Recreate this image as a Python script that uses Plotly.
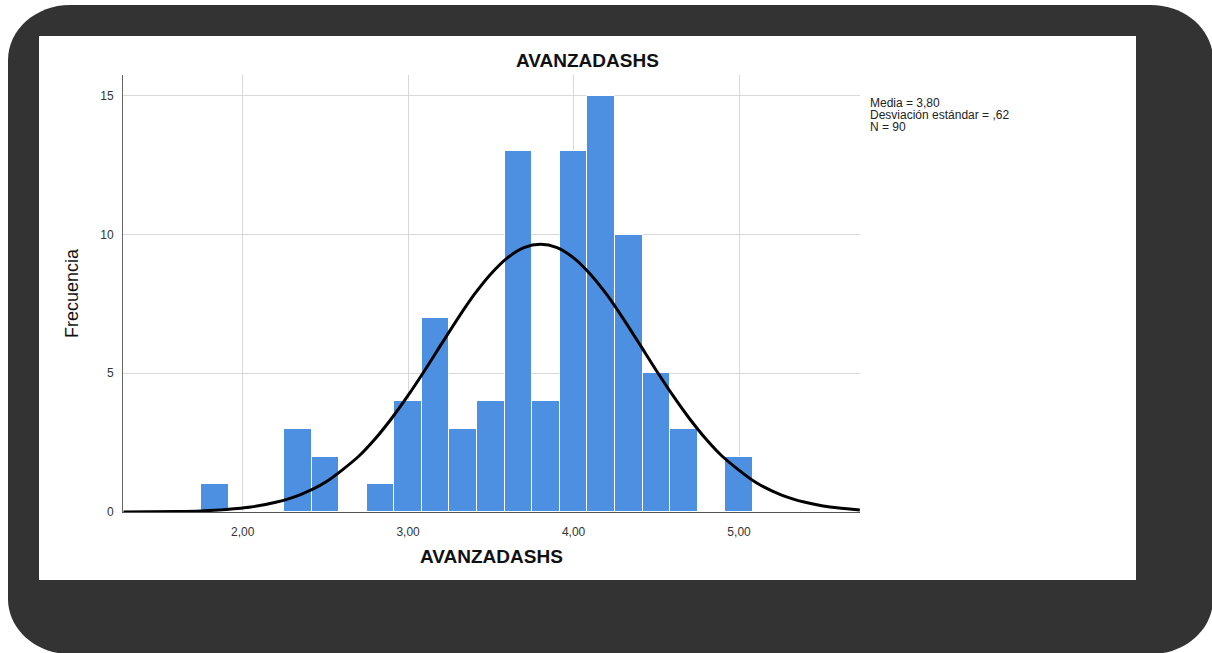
import plotly.graph_objects as go

# ---------------- data ----------------
bin_centers = [1.8333, 2.0, 2.1667, 2.3333, 2.5, 2.6667, 2.8333, 3.0, 3.1667, 3.3333,
               3.5, 3.6667, 3.8333, 4.0, 4.1667, 4.3333, 4.5, 4.6667, 4.8333, 5.0]
frequencies = [1, 0, 0, 3, 2, 0, 1, 4, 7, 3,
               4, 13, 4, 13, 15, 10, 5, 3, 0, 2]
bin_width = 1 / 6

curve_x = [1.28, 1.6, 1.75, 1.9, 2.05, 2.2, 2.35, 2.5, 2.7, 2.8, 2.9, 3.0, 3.1, 3.2, 3.3,
           3.4, 3.5, 3.6, 3.7, 3.8, 3.9, 4.0, 4.1, 4.2, 4.3, 4.4, 4.5, 4.6, 4.7, 4.8,
           4.9, 5.1, 5.25, 5.4, 5.55, 5.73]
curve_y = [0.003, 0.018, 0.04, 0.09, 0.18, 0.35, 0.63, 1.07, 2.00, 2.63, 3.37, 4.20, 5.10, 6.04, 6.97,
           7.84, 8.58, 9.16, 9.53, 9.65, 9.53, 9.16, 8.58, 7.84, 6.97, 6.04, 5.10, 4.20, 3.37, 2.63,
           2.00, 1.07, 0.63, 0.35, 0.18, 0.075]

x_tick_vals = [2, 3, 4, 5]
x_tick_text = ["2,00", "3,00", "4,00", "5,00"]
y_tick_vals = [0, 5, 10, 15]
y_tick_text = ["0", "5", "10", "15"]

chart_title = "AVANZADASHS"
x_title = "AVANZADASHS"
y_title = "Frecuencia"
stats_lines = ["Media = 3,80", "Desviación estándar = ,62", "N = 90"]

# ---------------- geometry ----------------
W, H = 1212, 653
L, R, T, B = 123, 352, 75, 141
PW, PH = W - L - R, H - T - B


def P(px, py):
    return (px - L) / PW, (H - B - py) / PH


def rrect(x0, y0, x1, y1, rx, ry):
    k = 0.5523
    segs = [
        ("M", [(x0 + rx, y0)]),
        ("L", [(x1 - rx, y0)]),
        ("C", [(x1 - rx + k * rx, y0), (x1, y0 + ry - k * ry), (x1, y0 + ry)]),
        ("L", [(x1, y1 - ry)]),
        ("C", [(x1, y1 - ry + k * ry), (x1 - rx + k * rx, y1), (x1 - rx, y1)]),
        ("L", [(x0 + rx, y1)]),
        ("C", [(x0 + rx - k * rx, y1), (x0, y1 - ry + k * ry), (x0, y1 - ry)]),
        ("L", [(x0, y0 + ry)]),
        ("C", [(x0, y0 + ry - k * ry), (x0 + rx - k * rx, y0), (x0 + rx, y0)]),
    ]
    out = ""
    for cmd, pts in segs:
        out += cmd + " " + " ".join("%.5f,%.5f" % P(a, b) for a, b in pts) + " "
    return out + "Z"


FONT = "Liberation Sans, Arial, sans-serif"

fig = go.Figure()
fig.add_trace(go.Bar(
    x=bin_centers, y=frequencies, width=bin_width,
    marker=dict(color="#4d90e2", line=dict(color="white", width=1)),
    showlegend=False, hoverinfo="skip",
))
fig.add_trace(go.Scatter(
    x=curve_x, y=curve_y, mode="lines",
    line=dict(color="black", width=3, shape="spline", smoothing=0.8),
    showlegend=False, hoverinfo="skip",
))

shapes = [
    dict(type="path", xref="paper", yref="paper", layer="below",
         path=rrect(8, 5, 1213, 654, 62, 55), fillcolor="#333333", line=dict(width=0)),
]
x0p, y0p = P(39, 580)
x1p, y1p = P(1136, 36)
shapes.append(dict(type="rect", xref="paper", yref="paper", layer="below",
                   x0=x0p, y0=y0p, x1=x1p, y1=y1p, fillcolor="white", line=dict(width=0)))

annotations = []
tx, ty = P(587, 60)
annotations.append(dict(xref="paper", yref="paper", x=tx, y=ty, text="<b>%s</b>" % chart_title,
                        showarrow=False, xanchor="center", yanchor="middle",
                        font=dict(family=FONT, size=19, color="#111")))
ax, ay = P(491, 556)
annotations.append(dict(xref="paper", yref="paper", x=ax, y=ay, text="<b>%s</b>" % x_title,
                        showarrow=False, xanchor="center", yanchor="middle",
                        font=dict(family=FONT, size=19, color="#111")))
yx, yy = P(72, 293)
annotations.append(dict(xref="paper", yref="paper", x=yx, y=yy, text=y_title, textangle=-90,
                        showarrow=False, xanchor="center", yanchor="middle",
                        font=dict(family=FONT, size=18, color="#111")))
for i, line in enumerate(stats_lines):
    sx, sy = P(868, 103 + 12 * i)
    annotations.append(dict(xref="paper", yref="paper", x=sx, y=sy, text=line,
                            showarrow=False, xanchor="left", yanchor="middle",
                            font=dict(family=FONT, size=12, color="#222")))

fig.update_layout(
    width=W, height=H,
    margin=dict(l=L, r=R, t=T, b=B, pad=0),
    paper_bgcolor="white", plot_bgcolor="rgba(0,0,0,0)",
    bargap=0, shapes=shapes, annotations=annotations,
    font=dict(family=FONT, size=12, color="#333"),
)
fig.update_xaxes(
    range=[1.277, 5.731], tickvals=x_tick_vals, ticktext=x_tick_text,
    showgrid=True, gridcolor="#d9d9d9", gridwidth=1, zeroline=False,
    showline=True, linecolor="#555", linewidth=1,
    ticks="outside", ticklen=9, tickcolor="rgba(0,0,0,0)",
    tickfont=dict(family=FONT, size=12, color="#333"),
)
fig.update_yaxes(
    range=[0, 15.75], tickvals=y_tick_vals, ticktext=y_tick_text,
    showgrid=True, gridcolor="#d9d9d9", gridwidth=1, zeroline=False,
    showline=True, linecolor="#666", linewidth=1,
    ticks="outside", ticklen=6, tickcolor="rgba(0,0,0,0)",
    tickfont=dict(family=FONT, size=12, color="#333"),
)

fig.write_html("out.html", config={"displayModeBar": False},
               post_script="document.body.style.margin='0';document.body.style.overflow='hidden';")
